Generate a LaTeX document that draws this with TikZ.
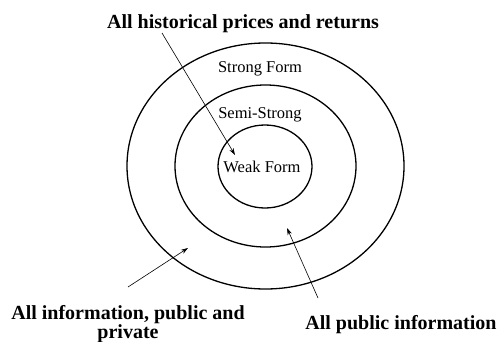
\documentclass[tikz,border=0pt]{standalone}
\usepackage{fontspec}
\setmainfont{Liberation Serif}
\usetikzlibrary{arrows.meta}
\begin{document}
\begin{tikzpicture}[x=1pt,y=-1pt,
  ring/.style={draw=black,line width=1.3pt},
  ringlabel/.style={font=\fontsize{16.5}{18}\selectfont,inner sep=0pt},
  biglabel/.style={font=\bfseries\fontsize{20}{19}\selectfont,inner sep=0pt,align=center},
  pointer/.style={draw=black,line width=0.6pt,-{Stealth[length=7pt,width=4.5pt]}}]
\useasboundingbox (0,0) rectangle (500,342);
\draw[ring] (265.5,166) ellipse [x radius=138.5, y radius=123];
\draw[ring] (265.5,166) ellipse [x radius=90.5, y radius=81];
\draw[ring] (265,166.5) ellipse [x radius=47, y radius=41.5];
\node[ringlabel] (strong) at (260,69) {Strong Form};
\node[ringlabel] (semi) at (260,115) {Semi-Strong};
\node[ringlabel] (weak) at (262,167) {Weak Form};
\node[biglabel] (hist) at (243,24) {All historical prices and returns};
\node[biglabel] (allinfo) at (128,324) {All information, public and\\private};
\node[biglabel] (pub) at (401,325) {All public information};
\coordinate (s1) at (162,33);
\coordinate (e1) at (235,155);
\coordinate (s2) at (128,287);
\coordinate (e2) at (188,248);
\coordinate (s3) at (318,298);
\coordinate (e3) at (287,228);
\draw[pointer] (s1) -- (e1);
\draw[pointer] (s2) -- (e2);
\draw[pointer] (s3) -- (e3);
\end{tikzpicture}
\end{document}
